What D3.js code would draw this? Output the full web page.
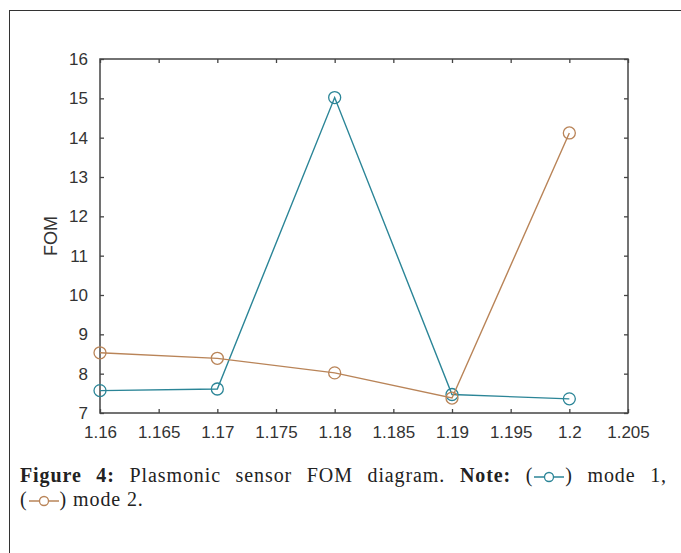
<!DOCTYPE html>
<html>
<head>
<meta charset="utf-8">
<script src="https://cdn.jsdelivr.net/npm/d3@7"></script>
<style>
  body { margin: 0; background: #fff; }
  #wrap { position: relative; width: 681px; height: 553px; overflow: hidden; }
  #frame { position: absolute; left: 9px; top: 10px; width: 700px; height: 600px; border: 1.5px solid #333; box-sizing: border-box; }
  .cap { position: absolute; left: 20px; width: 647px; font-family: "Liberation Serif", serif; font-size: 20px; color: #222; white-space: nowrap; letter-spacing: 0.9px; }
  #cap1 { top: 464px; text-align: justify; text-align-last: justify; white-space: normal; }
  #cap2 { top: 488px; }
  .cap b { font-weight: bold; }
  .ico { vertical-align: -1px; }
</style>
</head>
<body>
<div id="wrap">
  <div id="frame"></div>
  <svg id="chart" width="681" height="553" style="position:absolute;left:0;top:0"></svg>
  <div class="cap" id="cap1"><b>Figure 4:</b> Plasmonic sensor FOM diagram. <b>Note:</b> (<span id="ico1"></span>) mode 1,</div>
  <div class="cap" id="cap2">(<span id="ico2"></span>) mode 2.</div>
</div>
<script>
// data
var xValues = [1.16, 1.17, 1.18, 1.19, 1.2];
var mode1 = [7.57, 7.61, 15.02, 7.47, 7.36];
var mode2 = [8.53, 8.39, 8.02, 7.38, 14.12];
var xTicks = [1.16, 1.165, 1.17, 1.175, 1.18, 1.185, 1.19, 1.195, 1.2, 1.205];
var yTicks = [7, 8, 9, 10, 11, 12, 13, 14, 15, 16];

var colors = { mode1: '#2b8597', mode2: '#b98458' };

var margin = { top: 59, left: 100 },
  width = 528,
  height = 354;

var svg = d3.select('#chart')
  .append('g')
  .attr('transform', 'translate(' + margin.left + ',' + margin.top + ')');

var x = d3.scaleLinear().domain([1.16, 1.205]).range([0, width]);
var y = d3.scaleLinear().domain([7, 16]).range([height, 0]);

// box
svg.append('rect')
  .attr('width', width)
  .attr('height', height)
  .attr('fill', 'none')
  .attr('stroke', '#444')
  .attr('stroke-width', 1.5);

var fmt = function (d) { return d3.format('')(+d.toFixed(3)); };

// axes with inward ticks
svg.append('g')
  .attr('transform', 'translate(0,' + height + ')')
  .call(d3.axisBottom(x).tickValues(xTicks).tickFormat(fmt).tickSizeInner(-4).tickSizeOuter(0).tickPadding(13));
svg.append('g')
  .call(d3.axisLeft(y).tickValues(yTicks).tickSizeInner(-4).tickSizeOuter(0).tickPadding(12));
// mirrored ticks top and right
svg.append('g')
  .call(d3.axisTop(x).tickValues(xTicks).tickFormat('').tickSizeInner(-4).tickSizeOuter(0));
svg.append('g')
  .attr('transform', 'translate(' + width + ',0)')
  .call(d3.axisRight(y).tickValues(yTicks).tickFormat('').tickSizeInner(-4).tickSizeOuter(0));

svg.selectAll('.domain').remove();
svg.selectAll('.tick line').attr('stroke', '#444').attr('stroke-width', 1.3);
svg.selectAll('.tick text')
  .attr('font-family', '"Liberation Sans", Arial, sans-serif')
  .attr('font-size', 17)
  .attr('fill', '#333');

// y label
svg.append('text')
  .attr('transform', 'translate(-43,' + (height / 2) + ') rotate(-90)')
  .attr('text-anchor', 'middle')
  .attr('font-family', '"Liberation Sans", Arial, sans-serif')
  .attr('font-size', 18)
  .attr('fill', '#333')
  .text('FOM');

var line = d3.line()
  .x(function (d) { return x(d[0]); })
  .y(function (d) { return y(d[1]); });

function drawSeries(vals, color) {
  var pts = xValues.map(function (v, i) { return [v, vals[i]]; });
  svg.append('path')
    .datum(pts)
    .attr('fill', 'none')
    .attr('stroke', color)
    .attr('stroke-width', 1.4)
    .attr('d', line);
  svg.selectAll(null)
    .data(pts)
    .enter()
    .append('circle')
    .attr('cx', function (d) { return x(d[0]); })
    .attr('cy', function (d) { return y(d[1]); })
    .attr('r', 6)
    .attr('fill', 'none')
    .attr('stroke', color)
    .attr('stroke-width', 1.3);
}
drawSeries(mode1, colors.mode1);
drawSeries(mode2, colors.mode2);

// little legend icons inside the caption
function icon(sel, color) {
  var s = d3.select(sel).append('svg')
    .attr('class', 'ico')
    .attr('width', 32)
    .attr('height', 12);
  s.append('line').attr('x1', 1).attr('x2', 31).attr('y1', 6).attr('y2', 6)
    .attr('stroke', color).attr('stroke-width', 1.5);
  s.append('circle').attr('cx', 16).attr('cy', 6).attr('r', 4.5)
    .attr('fill', '#fff').attr('stroke', color).attr('stroke-width', 1.3);
}
icon('#ico1', colors.mode1);
icon('#ico2', colors.mode2);
</script>
</body>
</html>
